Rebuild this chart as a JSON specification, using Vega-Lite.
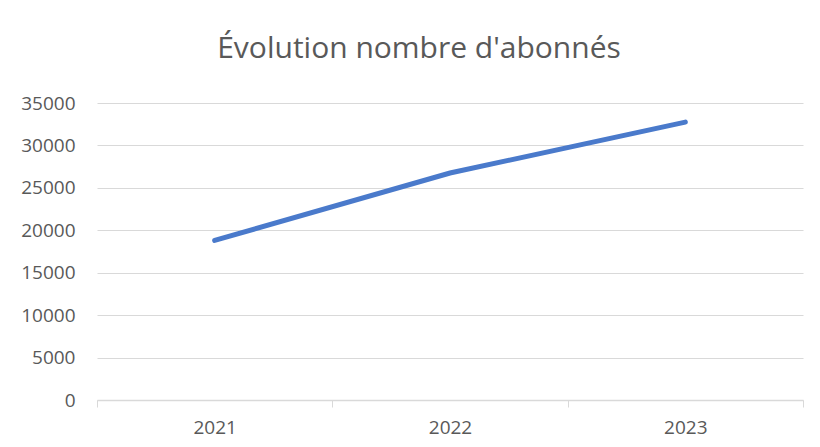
{
  "$schema": "https://vega.github.io/schema/vega-lite/v6.json",
  "width": 706,
  "height": 297,
  "autosize": "none",
  "padding": {"left": 97, "top": 103, "right": 17, "bottom": 47},
  "background": "white",
  "title": {
    "text": "Évolution nombre d'abonnés",
    "font": "Open Sans",
    "fontSize": 30,
    "fontWeight": "normal",
    "color": "#595959",
    "anchor": "middle",
    "dx": -31,
    "offset": 30
  },
  "data": {
    "values": [
      {"annee": "2021", "abonnes": 18800},
      {"annee": "2022", "abonnes": 26750},
      {"annee": "2023", "abonnes": 32750}
    ]
  },
  "config": {
    "view": {"stroke": null},
    "axis": {
      "labelFont": "Open Sans",
      "labelFontSize": 19,
      "labelColor": "#595959"
    }
  },
  "mark": {"type": "line", "color": "#4a7acb", "strokeWidth": 5, "strokeCap": "round"},
  "encoding": {
    "x": {
      "field": "annee",
      "type": "ordinal",
      "scale": {"paddingInner": 0, "paddingOuter": 0},
      "axis": {
        "title": null,
        "labelAngle": 0,
        "tickBand": "extent",
        "domainColor": "#d9d9d9",
        "domainWidth": 1.5,
        "tickColor": "#d9d9d9",
        "tickSize": 7,
        "labelPadding": 11
      }
    },
    "y": {
      "field": "abonnes",
      "type": "quantitative",
      "scale": {"domain": [0, 35000], "nice": false},
      "axis": {
        "title": null,
        "values": [0, 5000, 10000, 15000, 20000, 25000, 30000, 35000],
        "format": "d",
        "domain": false,
        "ticks": false,
        "gridColor": "#d9d9d9",
        "labelPadding": 22
      }
    }
  }
}
